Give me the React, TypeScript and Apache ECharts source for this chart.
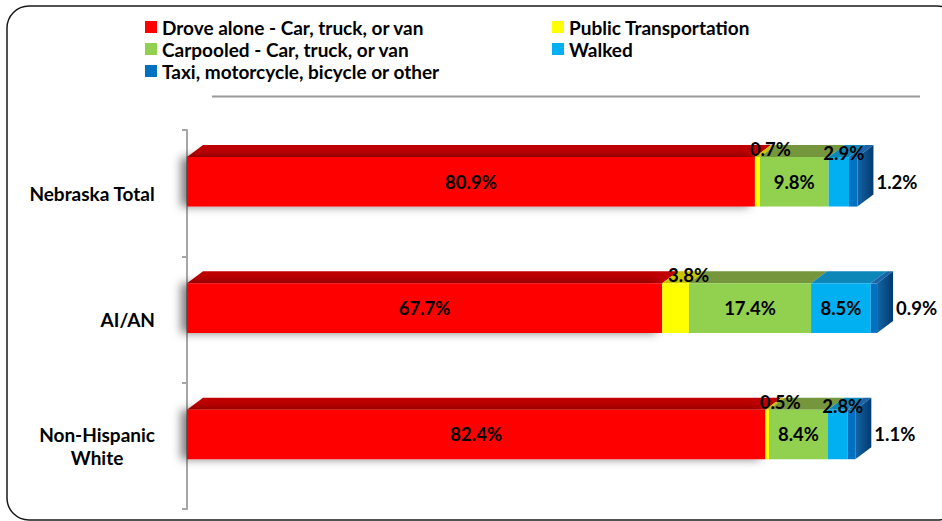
import React, { useEffect, useRef } from "react";
import * as echarts from "echarts";

const categories = ["Nebraska Total", "AI/AN", "Non-Hispanic\nWhite"];
const seriesNames = [
  "Drove alone - Car, truck, or van",
  "Public Transportation",
  "Carpooled - Car, truck, or van",
  "Walked",
  "Taxi, motorcycle, bicycle or other",
];
const droveAlone = [80.9, 67.7, 82.4];
const publicTransportation = [0.7, 3.8, 0.5];
const carpooled = [9.8, 17.4, 8.4];
const walked = [2.9, 8.5, 2.8];
const otherModes = [1.2, 0.9, 1.1];

const frontColors = ["#FF0000", "#FFFF00", "#92D050", "#00B0F0", "#0070C0"];
const topColors = ["#C00000", "#C8C400", "#76963E", "#0D86B8", "#1A64A8"];

const FONT = "Lato";

export default function App() {
  const ref = useRef<HTMLDivElement>(null);
  useEffect(() => {
    if (!ref.current) return;
    const chart = echarts.init(ref.current, null, { renderer: "svg" });
    const values = [droveAlone, publicTransportation, carpooled, walked, otherModes];
    const starts = categories.map(() => 0);
    const series = values.map((vals, si) => {
      const data = vals.map((v, ci) => {
        const s = starts[ci];
        starts[ci] = s + v;
        return [ci, s, s + v, v];
      });
      const isLast = si === values.length - 1;
      return {
        type: "custom",
        name: seriesNames[si],
        itemStyle: { color: frontColors[si] },
        encode: { x: [1, 2], y: 0 },
        data,
        renderItem: (params: any, api: any) => {
          const ci = api.value(0);
          const s = api.value(1);
          const e = api.value(2);
          const v = api.value(3);
          const p0 = api.coord([s, ci]);
          const p1 = api.coord([e, ci]);
          const band = api.size([0, 1])[1];
          const h = band * 0.392;
          const cy = p0[1] - band * 0.09;
          const top = cy - h / 2;
          const bottom = cy + h / 2;
          const x0 = p0[0];
          const x1 = p1[0];
          const DX = 16;
          const DY = 12;
          const children: any[] = [];
          children.push({
            type: "polygon",
            shape: { points: [[x0, top], [x1, top], [x1 + DX, top - DY], [x0 + DX, top - DY]] },
            style: { fill: topColors[si] },
            z2: 1,
          });
          const frontStyle: any = { fill: frontColors[si] };
          if (si === 0) {
            frontStyle.shadowBlur = 10;
            frontStyle.shadowColor = "rgba(0,0,0,0.5)";
            frontStyle.shadowOffsetX = -6;
            frontStyle.shadowOffsetY = 0;
          }
          children.push({
            type: "rect",
            shape: { x: x0, y: top, width: x1 - x0, height: h },
            style: frontStyle,
            z2: 2,
          });
          if (isLast) {
            children.push({
              type: "polygon",
              shape: { points: [[x1, top], [x1 + DX, top - DY], [x1 + DX, bottom - DY], [x1, bottom]] },
              style: {
                fill: new echarts.graphic.LinearGradient(0, 0, 1, 0, [
                  { offset: 0, color: "#1565A8" },
                  { offset: 1, color: "#003A6E" },
                ]),
              },
              z2: 2,
            });
          }
          const label = v.toFixed(1) + "%";
          const w = x1 - x0;
          let lx = (x0 + x1) / 2;
          let ly = cy;
          let align = "center";
          if (isLast) {
            lx = x1 + DX + 3;
            align = "left";
          } else if (w < 38) {
            if (si === 1) {
              lx = (x0 + x1) / 2 + 13;
              ly = top - 8;
            } else {
              lx = (x0 + x1) / 2 + 5;
              ly = top - 4;
            }
          }
          children.push({
            type: "text",
            x: lx,
            y: ly,
            z2: 100,
            style: {
              text: label,
              align,
              verticalAlign: "middle",
              fill: "#000",
              fontFamily: FONT,
              fontWeight: "bold",
              fontSize: 18.5,
            },
          });
          return { type: "group", children };
        },
      };
    });

    const legendText = { fontFamily: FONT, fontWeight: "bold", fontSize: 19, color: "#000", lineHeight: 22 };
    chart.setOption({
      animation: false,
      textStyle: { fontFamily: FONT },
      graphic: [
        {
          type: "rect",
          shape: { x: 7, y: 6, width: 952, height: 514, r: 22 },
          style: { fill: "none", stroke: "#1a1a1a", lineWidth: 1.5 },
          silent: true,
          z: -1,
        },
        {
          type: "line",
          shape: { x1: 212, y1: 96.5, x2: 920, y2: 96.5 },
          style: { stroke: "#9a9a9a", lineWidth: 2 },
          silent: true,
        },
      ],
      legend: [
        {
          orient: "vertical",
          left: 145,
          top: 16,
          padding: 0,
          itemGap: 0,
          itemWidth: 12,
          itemHeight: 12,
          icon: "rect",
          selectedMode: false,
          data: [seriesNames[0], seriesNames[2], seriesNames[4]],
          textStyle: legendText,
        },
        {
          orient: "vertical",
          left: 552,
          top: 16,
          padding: 0,
          itemGap: 0,
          itemWidth: 12,
          itemHeight: 12,
          icon: "rect",
          selectedMode: false,
          data: [seriesNames[1], seriesNames[3]],
          textStyle: legendText,
        },
      ],
      grid: { left: 187, right: 53, top: 130, bottom: 12, containLabel: false },
      xAxis: { type: "value", min: 0, max: 100, show: false },
      yAxis: {
        type: "category",
        data: categories,
        inverse: true,
        offset: 14,
        axisLine: { show: true, lineStyle: { color: "#A6A6A6", width: 2 } },
        axisTick: { show: true, length: 5, lineStyle: { color: "#A6A6A6", width: 2 } },
        splitLine: { show: false },
        axisLabel: {
          margin: 18,
          formatter: (val: string) =>
            val
              .split("\n")
              .map((l) => "{c|" + l + "}")
              .join("\n"),
          rich: {
            c: {
              align: "center",
              fontFamily: FONT,
              fontWeight: "bold",
              fontSize: 19,
              lineHeight: 23,
              color: "#000",
            },
          },
        },
      },
      series,
    });
    return () => chart.dispose();
  }, []);
  return (
    <div
      ref={ref}
      style={{ position: "absolute", left: 0, top: 0, width: 942, height: 521, background: "#fff" }}
    />
  );
}
